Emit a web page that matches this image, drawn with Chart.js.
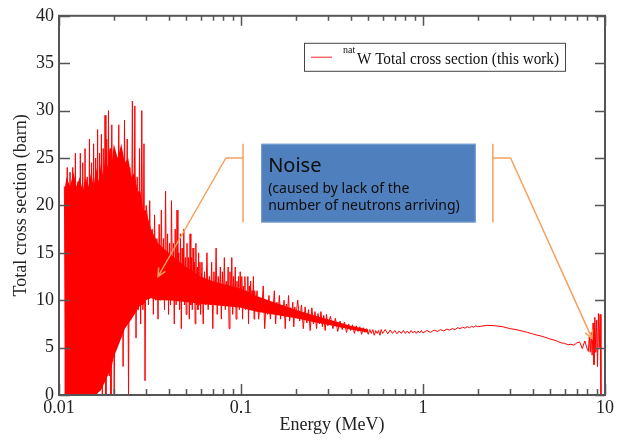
<!DOCTYPE html>
<html>
<head>
<meta charset="utf-8">
<title>natW total cross section</title>
<script src="https://cdn.jsdelivr.net/npm/chart.js@4.4.1/dist/chart.umd.min.js"></script>
<style>
html,body{margin:0;padding:0;background:#fff;}
#wrap{position:relative;width:622px;height:441px;}
</style>
</head>
<body>
<div id="wrap"><canvas id="xsChart" width="622" height="441"></canvas></div>
<script>

// ===============================
// DATA
// ===============================

// measured trace : energy (MeV) / total cross section (barn)
const energy = [
    // dense noise 0.0107 - 0.0201
    0.0107,0.0109,0.0111,0.0113,0.0115,0.0117,0.0119,0.0121,0.0123,0.0125,
    0.0127,0.0129,0.0131,0.0133,0.0135,0.0137,0.0139,0.0141,0.0143,0.0145,
    0.0147,0.0149,0.0151,0.0153,0.0155,0.0157,0.0159,0.0161,0.0163,0.0165,
    0.0167,0.0169,0.0171,0.0173,0.0175,0.0177,0.0179,0.0181,0.0183,0.0185,
    0.0187,0.0189,0.0191,0.0193,0.0195,0.0197,0.0199,0.0201,
    // 0.0205 - 0.0301
    0.0205,0.0209,0.0213,0.0217,0.0221,0.0225,0.0229,0.0233,0.0237,0.0241,
    0.0245,0.0249,0.0253,0.0257,0.0261,0.0265,0.0269,0.0273,0.0277,0.0281,
    0.0285,0.0289,0.0293,0.0297,0.0301,
    // 0.0305 - 0.0600
    0.0305,0.0310,0.0315,0.0320,0.0325,0.0330,0.0335,0.0340,0.0345,0.0350,
    0.0355,0.0360,0.0365,0.0370,0.0375,0.0380,0.0385,0.0390,0.0395,0.0400,
    0.0405,0.0410,0.0415,0.0420,0.0425,0.0430,0.0435,0.0440,0.0445,0.0450,
    0.0455,0.0460,0.0465,0.0470,0.0475,0.0480,0.0485,0.0490,0.0495,0.0500,
    0.0505,0.0510,0.0515,0.0520,0.0525,0.0530,0.0535,0.0540,0.0545,0.0550,
    0.0555,0.0560,0.0565,0.0570,0.0575,0.0580,0.0585,0.0590,0.0595,0.0600,
    // 0.061 - 0.120
    0.061,0.062,0.063,0.064,0.065,0.066,0.067,0.068,0.069,0.070,
    0.071,0.072,0.073,0.074,0.075,0.076,0.077,0.078,0.079,0.080,
    0.081,0.082,0.083,0.084,0.085,0.086,0.087,0.088,0.089,0.090,
    0.091,0.092,0.093,0.094,0.095,0.096,0.097,0.098,0.099,0.100,
    0.101,0.102,0.103,0.104,0.105,0.106,0.107,0.108,0.109,0.110,
    0.111,0.112,0.113,0.114,0.115,0.116,0.117,0.118,0.119,0.120,
    // 0.1225 - 0.2000
    0.1225,0.1250,0.1275,0.1300,0.1325,0.1350,0.1375,0.1400,0.1425,0.1450,
    0.1475,0.1500,0.1525,0.1550,0.1575,0.1600,0.1625,0.1650,0.1675,0.1700,
    0.1725,0.1750,0.1775,0.1800,0.1825,0.1850,0.1875,0.1900,0.1925,0.1950,
    0.1975,0.2000,
    // 0.205 - 0.300
    0.205,0.210,0.215,0.220,0.225,0.230,0.235,0.240,0.245,0.250,
    0.255,0.260,0.265,0.270,0.275,0.280,0.285,0.290,0.295,0.300,
    // 0.31 - 0.60
    0.31,0.32,0.33,0.34,0.35,0.36,0.37,0.38,0.39,0.40,
    0.41,0.42,0.43,0.44,0.45,0.46,0.47,0.48,0.49,0.50,
    0.51,0.52,0.53,0.54,0.55,0.56,0.57,0.58,0.59,0.60,
    // 0.62 - 1.00
    0.62,0.64,0.66,0.68,0.70,0.72,0.74,0.76,0.78,0.80,
    0.82,0.84,0.86,0.88,0.90,0.92,0.94,0.96,0.98,1.00,
    // 1.05 - 2.00
    1.05,1.10,1.15,1.20,1.25,1.30,1.35,1.40,1.45,1.50,
    1.55,1.60,1.65,1.70,1.75,1.80,1.85,1.90,1.95,2.00,
    // 2.25 - 8.0
    2.25,2.5,2.75,3.0,3.25,3.5,3.75,4.0,4.25,4.5,
    4.75,5.0,5.25,5.5,5.75,6.0,6.25,6.5,6.75,7.0,
    7.25,7.5,7.75,8.0,
    // noise at the end
    8.1,8.2,8.3,8.4,8.5,8.6,8.7,8.8,8.9,9.0,
    9.1,9.2,9.3,9.4,9.5
];

const sigma = [
    22,0,24,0,23.5,1,24,0,25.5,2,
    22.5,0,25.5,4,24.5,0,26,6,23,0,
    27,5,24.5,8,26.5,0,25,7,28,3,
    25.5,9,27.5,0,26,6,29.5,0,27,8,
    30,2,26,0,28.5,7,25,0,

    24,9,28.5,8,25,3,29,10,27,0,
    24,8,31,9.5,30.5,6,23,9,26,7.5,
    30,9,26.5,1.5,20,

    19,9.5,20.5,10.5,17.5,8.5,19,10,16.5,8,
    18,10,19.5,11,16.5,9,21.5,10,17,8.5,
    16,9.5,20.5,10.5,16,7.5,17.5,9.5,19.5,10,
    15,9,17,7,15.5,10,17.5,9.5,14.5,8.5,
    16,10,14.5,8,17,9.5,14.5,9,15.5,10,
    14,7.5,16,9.5,13.5,9,15,9.5,14,8.5,

    14,7.5,13,9.5,15,9,12.5,9.5,14,7,
    13,9.5,15.5,8.5,12.5,10,13.5,8,13,9.5,
    14.5,9,12,9.5,13.5,7,13,9.5,14.5,8.5,
    12.5,9.5,13.5,8,12,9.5,12.5,9,13,9.5,
    12.5,8,11.5,9.5,12.5,9,11,9.5,12.5,7.5,
    11.5,9.5,12,9,11,9.5,12.5,8,11,9,

    11,8,10,9,11.5,7,10,8.5,10.5,8,
    9.8,9,11,7.5,9.8,8.5,10.5,8,9.5,8.8,
    10,7,9.6,8.5,10.5,7.8,9.2,8.5,9.8,7.2,
    9.3,8.2,

    10,7.8,9.5,7,9.3,7.6,9,6.8,9.2,7.5,
    8.8,7,8.6,7.5,8.8,7.2,8.4,6.8,8.5,7.3,

    8.3,7.0,8.1,6.7,7.8,6.9,7.7,6.6,7.5,6.8,
    7.4,6.5,7.3,6.7,7.2,6.4,7.1,6.6,7.0,6.4,
    6.9,6.5,6.9,6.3,6.8,6.5,6.8,6.3,6.9,6.5,

    6.9,6.45,6.85,6.5,6.8,6.45,6.75,6.5,6.8,6.5,
    6.75,6.5,6.8,6.55,6.75,6.5,6.75,6.55,6.8,6.55,

    6.8,6.6,6.85,6.7,6.9,6.75,6.95,6.85,7.0,6.9,
    7.1,7.0,7.15,7.05,7.2,7.1,7.25,7.15,7.3,7.2,

    7.35,7.3,7.2,7.0,6.9,6.75,6.6,6.45,6.3,6.2,
    6.05,5.9,5.8,5.65,5.5,5.45,5.3,5.35,5.25,5.5,
    5.6,4.9,5.7,4.8,

    4.6,6.2,4.5,6.6,4.2,7.6,3.2,8.2,4.5,7.9,
    3.0,8.6,5.0,8.5,0
];

// solid core of the noisy band (upper / lower edge of the filled red)
const bandEnergy = [0.0107,0.0110,0.0115,0.0120,0.0125,0.0130,0.0135,0.0140,0.0145,0.0150,
                    0.0155,0.0160,0.0165,0.0170,0.0175,0.0180,0.0185,0.0190,0.0195,0.0200,
                    0.0210,0.0220,0.0230,0.0240,0.0250,0.0260,0.0270,0.0280,0.0290,0.0300,
                    0.032,0.035,0.040,0.045,0.050,0.060,0.070,0.080,0.100,0.120,
                    0.150,0.200,0.250,0.300,0.400,0.500];
const bandUpper  = [21.5,23,22,23.5,22,23,21.5,23,22,23.5,
                    22,24,22.5,24.5,23,25.5,24,26,24.5,26.5,
                    25,26.5,24.5,25,23,23.5,21.5,21.5,19.5,19.5,
                    17.5,16,15,14.2,13.5,12.5,12,11.7,11.2,10.5,
                    9.8,9.0,8.4,8.0,7.3,6.9];
const bandLower  = [0,0,0,0,0,0,0,0,0,0,
                    0,0,0.3,0.5,1,1.5,2,2.5,3,4,
                    5,6,7,7.5,8,8.5,9,9.5,9.5,10,
                    10.2,10,10,9.9,9.8,9.6,9.5,9.4,9.2,8.8,
                    8.5,8.1,7.7,7.4,6.9,6.6];

// axes
const xMajorTicks = [0.01,0.1,1,10];
const xTickLabels = ["0.01","0.1","1","10"];
const xMinorTicks = [0.02,0.03,0.04,0.05,0.06,0.07,0.08,0.09,
                     0.2,0.3,0.4,0.5,0.6,0.7,0.8,0.9,
                     2,3,4,5,6,7,8,9];
const yTicks = [0,5,10,15,20,25,30,35,40];

const legendLabel = "W Total cross section (this work)";
const legendSup = "nat";
const noteTitle = "Noise";
const noteLines = ["(caused by lack of the","number of neutrons arriving)"];

if(energy.length !== sigma.length){
    console.warn("energy/sigma length mismatch", energy.length, sigma.length);
}

// ===============================
// STYLE
// ===============================

const RED = "#ff0000";
const ORANGE = "#f7a05c";
const AXIS = "#555555";
const SERIF = "'Liberation Serif','Times New Roman',serif";

// ===============================
// PLUGIN : FRAME + INWARD TICKS
// ===============================

const frameTicks = {
    id:"frameTicks",
    afterDatasetsDraw(chart){
        const {ctx, chartArea:a, scales:{x, y}} = chart;
        ctx.save();
        ctx.strokeStyle = AXIS;
        ctx.lineWidth = 1.5;
        ctx.beginPath();
        xMajorTicks.forEach(v=>{
            const px = Math.round(x.getPixelForValue(v)) + .5;
            ctx.moveTo(px,a.bottom); ctx.lineTo(px,a.bottom-11);
            ctx.moveTo(px,a.top); ctx.lineTo(px,a.top+10);
        });
        xMinorTicks.forEach(v=>{
            const px = Math.round(x.getPixelForValue(v)) + .5;
            ctx.moveTo(px,a.bottom); ctx.lineTo(px,a.bottom-6);
            ctx.moveTo(px,a.top); ctx.lineTo(px,a.top+5);
        });
        yTicks.forEach(v=>{
            const py = Math.round(y.getPixelForValue(v)) + .5;
            ctx.moveTo(a.left,py); ctx.lineTo(a.left+11,py);
            ctx.moveTo(a.right,py); ctx.lineTo(a.right-10,py);
        });
        ctx.stroke();
        ctx.lineWidth = 2;
        ctx.strokeRect(a.left,a.top,a.right-a.left,a.bottom-a.top);
        ctx.restore();
    }
};

// ===============================
// PLUGIN : LEGEND + NOTE
// ===============================

function arrowTo(ctx,x0,y0,x1,y1){
    const ang = Math.atan2(y1-y0,x1-x0);
    const h = 9;
    ctx.beginPath();
    ctx.moveTo(x0,y0); ctx.lineTo(x1,y1);
    ctx.moveTo(x1-h*Math.cos(ang-0.45), y1-h*Math.sin(ang-0.45));
    ctx.lineTo(x1,y1);
    ctx.lineTo(x1-h*Math.cos(ang+0.45), y1-h*Math.sin(ang+0.45));
    ctx.stroke();
}

const notes = {
    id:"notes",
    afterDraw(chart){
        const {ctx, chartArea:a, scales:{x, y}} = chart;
        ctx.save();

        // legend box
        const lx = a.right-301, ly = a.top+27;
        ctx.fillStyle = "#fff";
        ctx.fillRect(lx,ly,261,28);
        ctx.strokeStyle = "#444";
        ctx.lineWidth = 1;
        ctx.strokeRect(lx+.5,ly+.5,261,28);
        ctx.strokeStyle = "#ff6a6a";
        ctx.lineWidth = 1.5;
        ctx.beginPath(); ctx.moveTo(lx+7,ly+14.5); ctx.lineTo(lx+28,ly+14.5); ctx.stroke();
        ctx.fillStyle = "#111";
        ctx.textBaseline = "alphabetic";
        ctx.font = "10px " + SERIF;
        ctx.fillText(legendSup,lx+39,ly+10);
        ctx.font = "16px " + SERIF;
        ctx.fillText(legendLabel,lx+53,ly+21,202);

        // note box
        const bx0 = x.getPixelForValue(0.129), bx1 = x.getPixelForValue(1.95);
        const by0 = y.getPixelForValue(26.5), by1 = y.getPixelForValue(18.2);
        ctx.fillStyle = "#4f7fbd";
        ctx.fillRect(bx0,by0,bx1-bx0,by1-by0);
        ctx.strokeStyle = "#7aa0d4";
        ctx.lineWidth = 1;
        ctx.strokeRect(bx0+.5,by0+.5,bx1-bx0-1,by1-by0-1);
        ctx.fillStyle = "#0d0d0d";
        ctx.font = "20px 'Noto Sans',sans-serif";
        ctx.fillText(noteTitle,bx0+7,by0+28);
        ctx.font = "14px 'Noto Sans',sans-serif";
        ctx.fillText(noteLines[0],bx0+7,by0+49);
        ctx.fillText(noteLines[1],bx0+7,by0+66);

        // brackets and arrows
        ctx.strokeStyle = ORANGE;
        ctx.lineWidth = 1.5;
        const yTop = y.getPixelForValue(26.5), yBot = y.getPixelForValue(18.2);
        const yElb = y.getPixelForValue(25);

        const lv = x.getPixelForValue(0.1026), le = x.getPixelForValue(0.0826);
        ctx.beginPath();
        ctx.moveTo(lv,yTop); ctx.lineTo(lv,yBot);
        ctx.moveTo(lv,yElb); ctx.lineTo(le,yElb);
        ctx.stroke();
        arrowTo(ctx,le,yElb,x.getPixelForValue(0.035),y.getPixelForValue(12.5));

        const rv = x.getPixelForValue(2.42), re = x.getPixelForValue(3.03);
        ctx.beginPath();
        ctx.moveTo(rv,yTop); ctx.lineTo(rv,yBot);
        ctx.moveTo(rv,yElb); ctx.lineTo(re,yElb);
        ctx.stroke();
        arrowTo(ctx,re,yElb,x.getPixelForValue(8.5),y.getPixelForValue(5.95));

        ctx.restore();
    }
};

// ===============================
// CHART
// ===============================

const ctx = document.getElementById("xsChart").getContext("2d");

const chart = new Chart(ctx,{
    type:"line",
    data:{
        datasets:[{
            label:legendSup + legendLabel,
            data:energy.map((e,i)=>({x:e,y:sigma[i]})),
            borderColor:RED,
            borderWidth:1,
            pointRadius:0,
            tension:0,
            fill:false
        },{
            label:"band upper",
            data:bandEnergy.map((e,i)=>({x:e,y:bandUpper[i]})),
            borderWidth:0,
            borderColor:RED,
            backgroundColor:RED,
            pointRadius:0,
            tension:0,
            fill:"+1"
        },{
            label:"band lower",
            data:bandEnergy.map((e,i)=>({x:e,y:bandLower[i]})),
            borderWidth:0,
            borderColor:RED,
            pointRadius:0,
            tension:0,
            fill:false
        }]
    },
    options:{
        responsive:false,
        animation:false,
        devicePixelRatio:1,
        layout:{ padding:{ top:14, right:17, left:0, bottom:0 } },
        plugins:{
            legend:{ display:false },
            tooltip:{ enabled:false }
        },
        scales:{
            x:{
                type:"logarithmic",
                min:0.01,
                max:10,
                grid:{ display:false, drawTicks:false },
                border:{ display:false },
                afterBuildTicks:axis=>{ axis.ticks = xMajorTicks.map(v=>({value:v})); },
                afterFit:axis=>{ axis.height = 46; },
                ticks:{
                    autoSkip:false,
                    maxRotation:0,
                    padding:2,
                    color:"#222",
                    font:{ family:SERIF, size:18 },
                    callback:(v,i)=>xTickLabels[i]
                },
                title:{
                    display:true,
                    text:"Energy (MeV)",
                    color:"#222",
                    font:{ family:SERIF, size:18 },
                    padding:{ top:0, bottom:5 }
                }
            },
            y:{
                type:"linear",
                min:0,
                max:40,
                grid:{ display:false, drawTicks:false },
                border:{ display:false },
                afterBuildTicks:axis=>{ axis.ticks = yTicks.map(v=>({value:v})); },
                afterFit:axis=>{ axis.width = 59; },
                ticks:{
                    padding:5,
                    color:"#222",
                    font:{ family:SERIF, size:18 },
                    callback:v=>String(v)
                },
                title:{
                    display:true,
                    text:"Total cross section (barn)",
                    color:"#222",
                    font:{ family:SERIF, size:18 },
                    padding:{ top:10, bottom:0 }
                }
            }
        }
    },
    plugins:[frameTicks,notes]
});

</script>
</body>
</html>
